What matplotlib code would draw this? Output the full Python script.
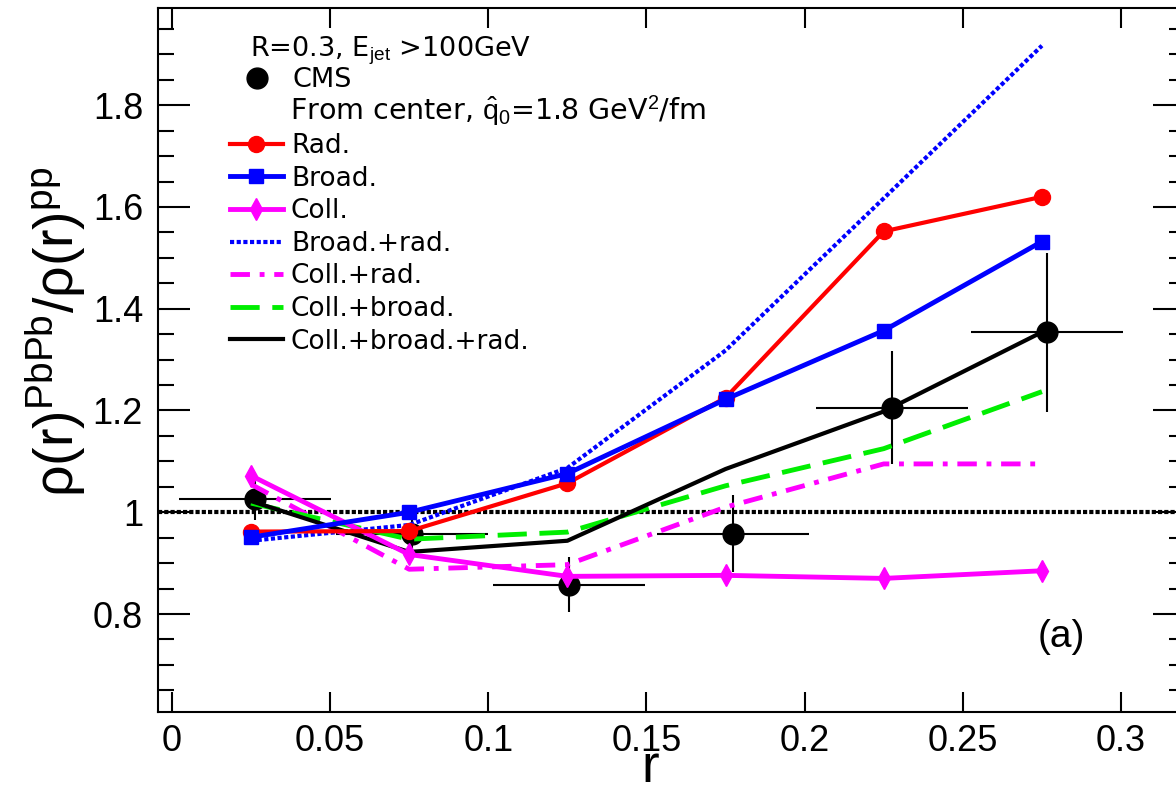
import matplotlib
matplotlib.use("Agg")
import matplotlib.pyplot as plt
from matplotlib.lines import Line2D
from matplotlib.ticker import MultipleLocator, FuncFormatter

plt.rcParams['font.family'] = ['Liberation Sans', 'DejaVu Sans']
plt.rcParams['mathtext.fontset'] = 'custom'
plt.rcParams['mathtext.rm'] = 'Liberation Sans'
plt.rcParams['mathtext.it'] = 'Liberation Sans:italic'
plt.rcParams['mathtext.bf'] = 'Liberation Sans:bold'

# model curves, jet shape ratio PbPb/pp
r_model = [0.025, 0.075, 0.125, 0.175, 0.225, 0.275]
rad = [0.962, 0.963, 1.057, 1.225, 1.552, 1.620]
broad = [0.951, 1.000, 1.076, 1.222, 1.357, 1.532]
coll = [1.072, 0.917, 0.874, 0.876, 0.870, 0.885]
broad_rad = [0.944, 0.975, 1.087, 1.318, 1.617, 1.917]
coll_rad = [1.055, 0.888, 0.897, 1.010, 1.095, 1.095]
coll_broad = [1.018, 0.947, 0.961, 1.052, 1.125, 1.237]
coll_broad_rad = [1.022, 0.922, 0.944, 1.085, 1.198, 1.354]

# CMS data
cms_r = [0.0264, 0.076, 0.1255, 0.1774, 0.2277, 0.2766]
cms_val = [1.027, 0.957, 0.858, 0.958, 1.205, 1.354]
cms_err = [0.043, 0.040, 0.054, 0.076, 0.111, 0.156]
cms_dr = [0.024, 0.024, 0.024, 0.024, 0.024, 0.024]

fig = plt.figure(figsize=(11.76, 7.93), dpi=100)
ax = fig.add_axes([0.1346, 0.1025, 0.873, 0.8874])

ax.axhline(1.0, color='black', lw=3, linestyle=(0, (1.0, 0.5)), zorder=1)

ax.errorbar(cms_r, cms_val, xerr=cms_dr, yerr=cms_err, fmt='o', color='black',
            ms=15, elinewidth=1.5, capsize=0, zorder=2)

ax.plot(r_model, broad_rad, color='blue', lw=3, linestyle=(0, (1.0, 0.6)), zorder=3)
ax.plot(r_model, coll_rad, color='magenta', lw=3.5, linestyle=(0, (4, 2, 1, 2)), zorder=3)
ax.plot(r_model, coll_broad, color='#00ee00', lw=3.5, linestyle=(0, (6, 2.6)), zorder=3)
ax.plot(r_model, coll_broad_rad, color='black', lw=3, zorder=4)
ax.plot(r_model, coll, color='magenta', lw=3.5, marker='d', ms=11, zorder=5)
ax.plot(r_model, rad, color='red', lw=3, marker='o', ms=11.5, zorder=6)
ax.plot(r_model, broad, color='blue', lw=3.5, marker='s', ms=10.5, zorder=7)

ax.set_xlim(-0.0043, 0.3202)
ax.set_ylim(0.608, 1.991)

ax.xaxis.set_major_locator(MultipleLocator(0.05))
ax.xaxis.set_major_formatter(FuncFormatter(lambda v, p: '%g' % round(v, 3)))
ax.yaxis.set_major_locator(MultipleLocator(0.2))
ax.yaxis.set_minor_locator(MultipleLocator(0.05))
ax.yaxis.set_major_formatter(FuncFormatter(lambda v, p: '%g' % round(v, 3)))

ax.tick_params(axis='both', which='both', direction='in', top=True, right=True,
               width=1.5, labelsize=26, colors='black')
ax.tick_params(axis='y', which='major', length=23, pad=11)
ax.tick_params(axis='y', which='minor', length=11.5)
ax.tick_params(axis='x', which='major', length=14.5, pad=9)
for s in ax.spines.values():
    s.set_linewidth(1.5)

ax.set_ylabel(r'ρ(r)$^{\mathrm{PbPb}}$/ρ(r)$^{\mathrm{pp}}$', fontsize=40)
ax.yaxis.set_label_coords(-0.068, 0.54)
ax.set_xlabel('r', fontsize=38)
ax.xaxis.label.set_va('baseline')
ax.xaxis.set_label_coords(0.479, -0.0995)

# legend block
leg_font = {'family': 'DejaVu Sans', 'size': 19}
ax.text(0.0893, 0.9318, r'R=0.3, E$_{\mathrm{jet}}$ >100GeV', family='DejaVu Sans',
        fontsize=19.5, va='baseline', ha='left', transform=ax.transAxes)
ax.text(0.1283, 0.8408, r'From center, $\hat{\mathrm{q}}_{0}$=1.8 GeV$^{2}$/fm',
        family='DejaVu Sans', fontsize=20.5, va='baseline', ha='left',
        transform=ax.transAxes)

cms_handle = Line2D([], [], color='black', marker='o', ms=15, linestyle='none')
leg1 = ax.legend([cms_handle], ['CMS'], loc='center left', bbox_to_anchor=(0.0698, 0.8977),
                 frameon=False, borderpad=0, borderaxespad=0, handlelength=2.0,
                 handletextpad=0.31, prop={'family': 'DejaVu Sans', 'size': 19.5})
ax.add_artist(leg1)

handles = [
    Line2D([], [], color='red', lw=3, marker='o', ms=11.5),
    Line2D([], [], color='blue', lw=3.5, marker='s', ms=10.5),
    Line2D([], [], color='magenta', lw=3.5, marker='d', ms=11),
    Line2D([], [], color='blue', lw=3, linestyle=(0, (1.0, 0.6))),
    Line2D([], [], color='magenta', lw=3.5, linestyle=(0, (4, 2, 1, 2))),
    Line2D([], [], color='#00ee00', lw=3.5, linestyle=(0, (6, 2.6))),
    Line2D([], [], color='black', lw=3),
]
labels = ['Rad.', 'Broad.', 'Coll.', 'Broad.+rad.', 'Coll.+rad.', 'Coll.+broad.',
          'Coll.+broad.+rad.']
ax.legend(handles, labels, loc='center left', bbox_to_anchor=(0.0698, 0.6650),
          frameon=False, borderpad=0, borderaxespad=0, handlelength=2.0,
          handletextpad=0.31, labelspacing=0.25, prop=leg_font)

ax.text(0.880, 0.106, '(a)', fontsize=28, ha='center', va='center',
        transform=ax.transAxes)

fig.savefig('out.png', dpi=100)
